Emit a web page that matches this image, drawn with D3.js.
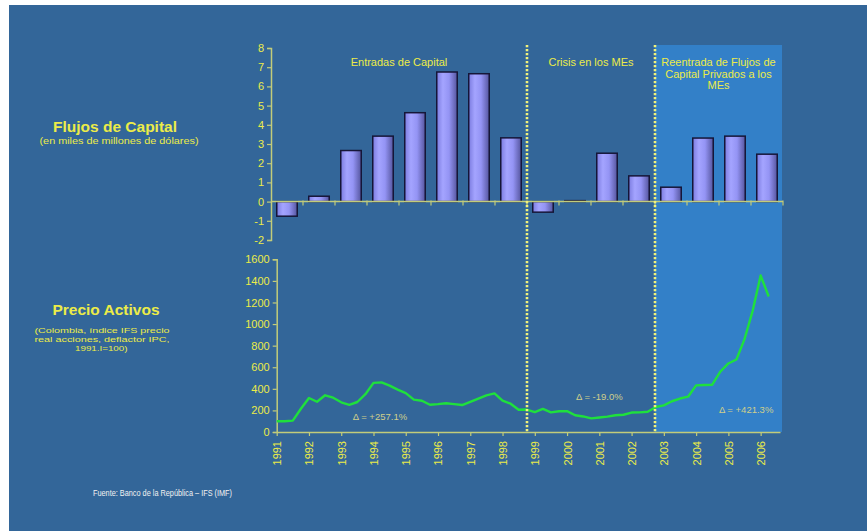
<!DOCTYPE html>
<html>
<head>
<meta charset="utf-8">
<script src="https://cdn.jsdelivr.net/npm/d3@7"></script>
<style>
  body { margin: 0; background: #ffffff; }
  svg { display: block; font-family: "Liberation Sans", Arial, sans-serif; }
</style>
</head>
<body>
<svg id="chart" width="867" height="531"></svg>
<script>
// Annual capital flows (billions of USD)
const flowYears = ["1991","1992","1993","1994","1995","1996","1997","1998",
                   "1999","2000","2001","2002","2003","2004","2005","2006"];
const flowValues = [-0.76, 0.28, 2.66, 3.41, 4.63, 6.75, 6.66, 3.32,
                    -0.55, 0.05, 2.52, 1.34, 0.75, 3.31, 3.41, 2.47];
const flowTicks = [-2, -1, 0, 1, 2, 3, 4, 5, 6, 7, 8];

// Quarterly real stock price index (1991.I = 100), 1991.I – 2006.II
const priceStart = 1991;
const priceValues = [
  100, 100, 105, 215,
  315, 280, 340, 318,
  275, 252, 278, 350,
  455, 460, 430, 393,
  360, 300, 290, 252,
  258, 266, 258, 250,
  280, 310, 340, 358,
  290, 262, 206, 208,
  184, 214, 182, 192,
  193, 155, 144, 126,
  134, 142, 155, 160,
  180, 182, 188, 232,
  247, 285, 310, 327,
  432, 435, 438, 560,
  635, 672, 860, 1120,
  1450, 1255
];
const priceTicks = [0, 200, 400, 600, 800, 1000, 1200, 1400, 1600];
const yearTicks = d3.range(1991, 2007);

// Period labels and annotations
const periodLabels = [
  { lines: ["Entradas de Capital"], from: "1991", to: "1998" },
  { lines: ["Crisis en los MEs"], from: "1999", to: "2002" },
  { lines: ["Reentrada de Flujos de", "Capital Privados a los", "MEs"], from: "2003", to: "2006" }
];
const periodBreaks = ["1999", "2003"];
const deltaNotes = [
  { text: "Δ = +257.1%", year: 1994.2, value: 110 },
  { text: "Δ = -19.0%", year: 2001.0, value: 300 },
  { text: "Δ = +421.3%", year: 2005.55, value: 175 }
];

const BG = "#336699", HILITE = "#3380c8", YELLOW = "#ecec48", AXIS = "#c2cc7a";
const plain = d => String(d);   // plain hyphen-minus, no thousands separator

const svg = d3.select("#chart");

// panel background
svg.append("rect").attr("x", 9).attr("y", 5).attr("width", 858).attr("height", 526).attr("fill", BG);

const defs = svg.append("defs");
const grad = defs.append("linearGradient").attr("id", "barGrad")
  .attr("x1", "0%").attr("x2", "100%").attr("y1", "0%").attr("y2", "0%");
grad.append("stop").attr("offset", "0%").attr("stop-color", "#7c7ce0");
grad.append("stop").attr("offset", "30%").attr("stop-color", "#a4a4ff");
grad.append("stop").attr("offset", "60%").attr("stop-color", "#9494f4");
grad.append("stop").attr("offset", "100%").attr("stop-color", "#55559e");

// ---- scales ----
const xBand = d3.scaleBand().domain(flowYears).range([271, 783])
  .paddingInner(0.36).paddingOuter(0.18);
const yFlow = d3.scaleLinear().domain([-2, 8]).range([240, 48]);

const xTime = d3.scaleLinear().domain([1991, 2006.6]).range([276.7, 780]);
const yPrice = d3.scaleLinear().domain([0, 1600]).range([432, 259.3]);

const step = xBand.step();
const bandLeft = y => xBand(y) - xBand.paddingInner() * step / 2;

// highlighted re-entry period
const hx0 = bandLeft(periodBreaks[1]);
svg.append("rect")
  .attr("x", hx0).attr("y", 45)
  .attr("width", 782 - hx0).attr("height", yPrice(0) - 45)
  .attr("fill", HILITE);

// ---- bar chart ----
const gBars = svg.append("g");
gBars.selectAll("rect.bar").data(flowYears).join("rect")
  .attr("class", "bar")
  .attr("x", d => xBand(d))
  .attr("width", xBand.bandwidth())
  .attr("y", (d, i) => yFlow(Math.max(0, flowValues[i])))
  .attr("height", (d, i) => Math.abs(yFlow(flowValues[i]) - yFlow(0)))
  .attr("fill", "url(#barGrad)")
  .attr("stroke", "#161638")
  .attr("stroke-width", 1.5);

// zero line with category separators
const zeroY = yFlow(0);
gBars.append("line").attr("x1", 271).attr("x2", 783)
  .attr("y1", zeroY).attr("y2", zeroY).attr("stroke", AXIS).attr("stroke-width", 1.5);
gBars.selectAll("line.sep").data(flowYears.slice(1).concat(["end"])).join("line")
  .attr("class", "sep")
  .attr("x1", d => d === "end" ? 783 : bandLeft(d))
  .attr("x2", d => d === "end" ? 783 : bandLeft(d))
  .attr("y1", zeroY - 1).attr("y2", zeroY + 4)
  .attr("stroke", AXIS).attr("stroke-width", 1.2);

const yFlowAxis = svg.append("g").attr("transform", "translate(271,0)")
  .call(d3.axisLeft(yFlow).tickValues(flowTicks).tickFormat(plain)
    .tickSize(4).tickSizeOuter(4).tickPadding(3));

// ---- line chart ----
const yPriceAxis = svg.append("g").attr("transform", "translate(276.7,0)")
  .call(d3.axisLeft(yPrice).tickValues(priceTicks).tickFormat(plain)
    .tickSize(4).tickSizeOuter(4).tickPadding(3));

const xTimeAxis = svg.append("g").attr("transform", `translate(0,${yPrice(0)})`)
  .call(d3.axisBottom(xTime).tickValues(yearTicks).tickFormat(plain)
    .tickSize(4).tickSizeOuter(0));
xTimeAxis.selectAll("text")
  .attr("transform", "rotate(-90)")
  .attr("text-anchor", "end")
  .attr("x", -9).attr("y", 0).attr("dy", "0.36em");

[yFlowAxis, yPriceAxis, xTimeAxis].forEach(g => {
  g.selectAll("path.domain").attr("stroke", AXIS).attr("stroke-width", 1.5);
  g.selectAll(".tick line").attr("stroke", AXIS).attr("stroke-width", 1.2);
  g.selectAll("text").attr("fill", YELLOW).attr("font-size", 11)
    .attr("font-family", "'Liberation Sans', Arial, sans-serif");
});

const line = d3.line()
  .x((d, i) => xTime(priceStart + i * 0.25))
  .y(d => yPrice(d));
svg.append("path").datum(priceValues)
  .attr("d", line)
  .attr("fill", "none")
  .attr("stroke", "#1fe03c")
  .attr("stroke-width", 2.4)
  .attr("stroke-linejoin", "round");

// annotations on the price line
svg.selectAll("text.delta").data(deltaNotes).join("text")
  .attr("class", "delta")
  .attr("x", d => xTime(d.year)).attr("y", d => yPrice(d.value))
  .attr("text-anchor", "middle")
  .attr("font-size", 9.5)
  .attr("fill", "#cfcf8c")
  .text(d => d.text);

// period separators (dotted)
svg.selectAll("line.break").data(periodBreaks).join("line")
  .attr("class", "break")
  .attr("x1", d => bandLeft(d)).attr("x2", d => bandLeft(d))
  .attr("y1", 45).attr("y2", yPrice(0))
  .attr("stroke", "#f2f27a")
  .attr("stroke-width", 2.6)
  .attr("stroke-dasharray", "2.2,1.8");

// period titles
periodLabels.forEach(p => {
  const x0 = bandLeft(p.from);
  const x1 = p.to === "2006" ? 782 : bandLeft(String(+p.to + 1));
  const t = svg.append("text")
    .attr("x", (x0 + x1) / 2).attr("y", 66)
    .attr("text-anchor", "middle")
    .attr("font-size", 11)
    .attr("fill", YELLOW);
  p.lines.forEach((ln, i) => {
    t.append("tspan").attr("x", (x0 + x1) / 2).attr("dy", i === 0 ? 0 : 11.5).text(ln);
  });
});

// left-side titles
const titles = svg.append("g").attr("fill", YELLOW);
titles.append("text").attr("x", 115).attr("y", 132).attr("text-anchor", "middle")
  .attr("font-size", 15.5).attr("font-weight", "bold").text("Flujos de Capital");
titles.append("text").attr("x", 106).attr("y", 315).attr("text-anchor", "middle")
  .attr("font-size", 15.5).attr("font-weight", "bold").text("Precio Activos");

// subtitles, slightly widened
const subLines = [
  { text: "(en miles de millones de dólares)", x: 39.5, y: 143.5, w: 159, fs: 9.8 },
  { text: "(Colombia, índice IFS precio", x: 34.5, y: 332.8, w: 135, fs: 7.8 },
  { text: "real acciones, deflactor IPC,", x: 34.5, y: 341.8, w: 135, fs: 7.8 },
  { text: "1991.I=100)", x: 75, y: 350.8, w: 52.5, fs: 7.8 }
];
titles.selectAll("text.sub").data(subLines).join("text")
  .attr("class", "sub")
  .attr("x", d => d.x).attr("y", d => d.y)
  .attr("font-size", d => d.fs)
  .attr("textLength", d => d.w).attr("lengthAdjust", "spacingAndGlyphs")
  .text(d => d.text);

// source note
svg.append("text").attr("x", 93).attr("y", 496)
  .attr("font-size", 8.2).attr("fill", "#f2f2f2")
  .attr("textLength", 139).attr("lengthAdjust", "spacingAndGlyphs")
  .text("Fuente: Banco de la República – IFS (IMF)");
</script>
</body>
</html>
